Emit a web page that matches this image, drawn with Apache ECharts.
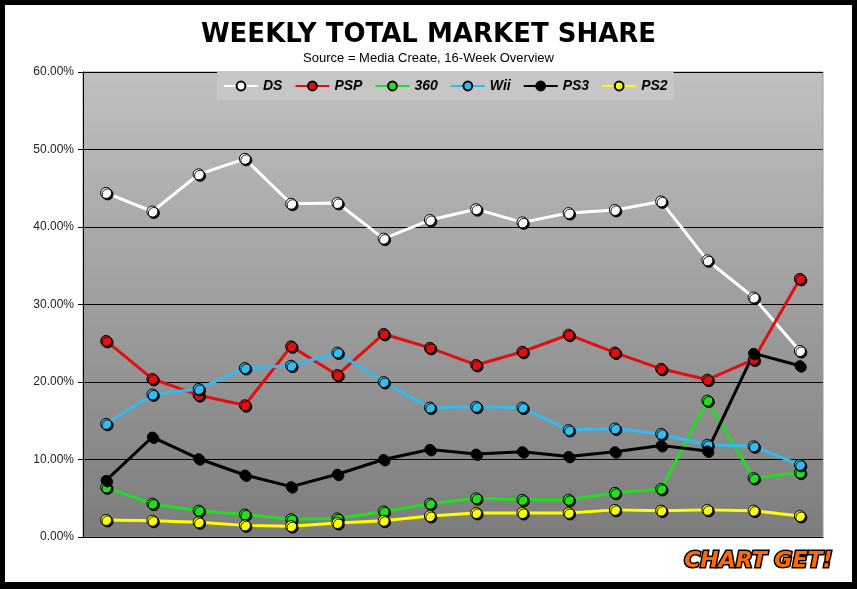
<!DOCTYPE html>
<html><head><meta charset="utf-8">
<script src="https://cdn.jsdelivr.net/npm/echarts@6/dist/echarts.min.js"></script>
<style>html,body{margin:0;padding:0;background:#000;}#c{position:absolute;left:5px;top:5px;width:847px;height:577px;background:#fff;}</style>
</head><body><div id="c"></div>
<script>
const weeks = ['W1','W2','W3','W4','W5','W6','W7','W8','W9','W10','W11','W12','W13','W14','W15','W16'];
const yTicks = [0, 10, 20, 30, 40, 50, 60];
const ds  = [44.4, 42.0, 46.8, 48.8, 43.0, 43.1, 38.5, 40.9, 42.3, 40.6, 41.8, 42.2, 43.3, 35.7, 30.9, 24.0];
const psp = [25.3, 20.4, 18.3, 17.0, 24.6, 20.9, 26.2, 24.4, 22.2, 23.9, 26.1, 23.8, 21.7, 20.3, 22.9, 33.3];
const x360 = [6.4, 4.3, 3.4, 2.9, 2.3, 2.4, 3.3, 4.3, 5.0, 4.8, 4.8, 5.7, 6.2, 17.6, 7.6, 8.3];
const wii = [14.6, 18.4, 19.1, 21.8, 22.1, 23.8, 20.0, 16.7, 16.8, 16.7, 13.8, 14.0, 13.3, 11.9, 11.7, 9.3];
const ps3 = [7.3, 12.9, 10.1, 8.0, 6.5, 8.1, 10.0, 11.3, 10.7, 11.0, 10.4, 11.0, 11.8, 11.1, 23.7, 22.1];
const ps2 = [2.2, 2.1, 1.9, 1.5, 1.4, 1.8, 2.1, 2.7, 3.1, 3.1, 3.1, 3.5, 3.4, 3.5, 3.4, 2.7];
const seriesNames = ['DS', 'PSP', '360', 'Wii', 'PS3', 'PS2'];
const seriesData = [ds, psp, x360, wii, ps3, ps2];
const seriesColors = ['#ffffff', '#e01010', '#22dd22', '#33bbee', '#000000', '#ffff00'];

const chart = echarts.init(document.getElementById('c'), null, {renderer: 'canvas'});
const series = seriesNames.map((n, i) => ({
  name: n, type: 'line', data: seriesData[i],
  symbol: 'circle', symbolSize: i === 4 ? 10 : 11,
  lineStyle: {color: seriesColors[i], width: 3},
  itemStyle: {color: seriesColors[i], borderColor: '#000', borderWidth: 1,
    shadowColor: 'rgba(0,0,0,0.9)', shadowOffsetX: 1.5, shadowOffsetY: 1.5, shadowBlur: 0},
  emphasis: {disabled: true},
  animation: false
}));

chart.setOption({
  animation: false,
  title: [{
    text: 'WEEKLY TOTAL MARKET SHARE', left: 'center', top: 12,
    textStyle: {fontFamily: 'DejaVu Sans', fontWeight: 'bold', fontSize: 26, color: '#000'}
  }, {
    text: 'Source = Media Create, 16-Week Overview', left: 'center', top: 42,
    textStyle: {fontFamily: 'Liberation Sans Narrow, Liberation Sans', fontWeight: 'normal', fontSize: 13, color: '#000'}
  }],
  legend: {
    data: seriesNames, top: 67, left: 212, width: 451, height: 28,
    padding: [7, 6, 7, 6],
    backgroundColor: '#c6c6c6',
    itemGap: 12, itemWidth: 34, itemHeight: 11,
    textStyle: {fontFamily: 'Liberation Sans', fontWeight: 'bold', fontStyle: 'italic', fontSize: 14, color: '#000'}
  },
  grid: {left: 78, right: 29, top: 67, bottom: 45, show: true,
    backgroundColor: new echarts.graphic.LinearGradient(0, 0, 0, 1, [
      {offset: 0, color: '#c0c0c0'}, {offset: 1, color: '#7c7c7c'}]),
    borderColor: '#999', borderWidth: 1},
  xAxis: {
    type: 'category', data: weeks, boundaryGap: true,
    axisLine: {lineStyle: {color: '#000'}}, axisTick: {show: false}, axisLabel: {show: false}
  },
  yAxis: {
    type: 'value', min: yTicks[0], max: yTicks[yTicks.length - 1], interval: 10,
    axisLine: {show: true, lineStyle: {color: '#000'}},
    axisTick: {show: true, length: 5, lineStyle: {color: '#000'}},
    splitLine: {lineStyle: {color: '#000', width: 1}},
    axisLabel: {formatter: v => v.toFixed(2) + '%', fontFamily: 'Liberation Sans', fontSize: 12, color: '#222', margin: 9}
  },
  graphic: [{
    type: 'text', right: 18, bottom: 8,
    style: {
      text: 'CHART GET!', font: 'italic bold 22px "DejaVu Sans"',
      fill: '#ff6a00',
      stroke: '#000', lineWidth: 3
    }
  }],
  series: series
});
</script></body></html>
